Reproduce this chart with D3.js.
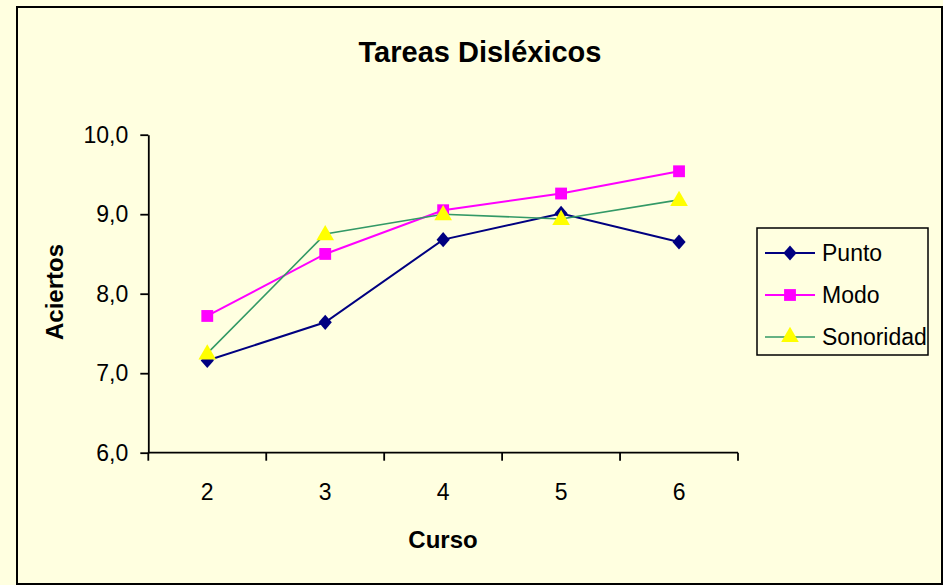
<!DOCTYPE html>
<html>
<head>
<meta charset="utf-8">
<script src="https://cdn.jsdelivr.net/npm/d3@7"></script>
<style>
  html, body { margin: 0; padding: 0; background: #FFFFE0; }
  text { font-family: Arial, "Liberation Sans", sans-serif; }
</style>
</head>
<body>
<div id="chart"></div>
<script>
// Datos
var cursos = [2, 3, 4, 5, 6];
var yTicks = [6, 7, 8, 9, 10];
var punto = [7.16, 7.64, 8.68, 9.01, 8.65];
var modo = [7.72, 8.50, 9.05, 9.26, 9.54];
var sonoridad = [7.25, 8.75, 9.00, 8.94, 9.18];

var width = 943, height = 585;
var margin = { top: 134.7, right: 205, bottom: 132.3, left: 148.3 };

// rombo tipo Excel (mas ancho que el de d3)
var excelDiamond = {
  draw: function (ctx, size) {
    var h = Math.sqrt(size) * 0.62, w = h * 0.87;
    ctx.moveTo(0, -h); ctx.lineTo(w, 0); ctx.lineTo(0, h); ctx.lineTo(-w, 0); ctx.closePath();
  }
};

var series = [
  { name: "Punto", values: punto, line: "#000080", fill: "#000080", symbol: excelDiamond, size: 150, lw: 2 },
  { name: "Modo", values: modo, line: "#FF00FF", fill: "#FF00FF", symbol: d3.symbolSquare, size: 140, lw: 2 },
  { name: "Sonoridad", values: sonoridad, line: "#339966", fill: "#FFFF00", symbol: d3.symbolTriangle, size: 135, lw: 1.6 }
];

var svg = d3.select("#chart").append("svg")
  .attr("width", width)
  .attr("height", height);

// marco exterior
svg.append("rect")
  .attr("x", 17).attr("y", 7)
  .attr("width", 925).attr("height", 577)
  .attr("fill", "#FFFFE0")
  .attr("stroke", "#000").attr("stroke-width", 2);

var x = d3.scaleBand()
  .domain(cursos)
  .range([margin.left, width - margin.right])
  .paddingInner(0).paddingOuter(0);

var y = d3.scaleLinear()
  .domain([6, 10])
  .range([height - margin.bottom, margin.top]);

var fmt = function (d) { return d3.format(".1f")(d).replace(".", ","); };

// eje Y
var yAxis = svg.append("g")
  .attr("transform", "translate(" + margin.left + ",0)")
  .call(d3.axisLeft(y).tickValues(yTicks).tickFormat(fmt).tickSize(8).tickPadding(12).tickSizeOuter(0));
yAxis.selectAll("text").attr("font-size", 23).attr("fill", "#000");
yAxis.selectAll("line, path").attr("stroke", "#000").attr("stroke-width", 1.8);

// eje X con marcas entre categorias
var xEdges = cursos.map(function (c) { return x(c); }).concat([x(cursos[cursos.length - 1]) + x.bandwidth()]);
var xg = svg.append("g").attr("transform", "translate(0," + (height - margin.bottom) + ")");
xg.append("line")
  .attr("x1", margin.left).attr("x2", width - margin.right)
  .attr("stroke", "#000").attr("stroke-width", 1.8);
xg.selectAll(".tk").data(xEdges).join("line")
  .attr("x1", function (d) { return d; }).attr("x2", function (d) { return d; })
  .attr("y1", 0).attr("y2", 8)
  .attr("stroke", "#000").attr("stroke-width", 1.8);
xg.selectAll(".lb").data(cursos).join("text")
  .attr("x", function (d) { return x(d) + x.bandwidth() / 2; })
  .attr("y", 31).attr("dy", "0.71em")
  .attr("text-anchor", "middle")
  .attr("font-size", 23)
  .text(function (d) { return d; });

var cx = function (i) { return x(cursos[i]) + x.bandwidth() / 2; };

var line = d3.line()
  .x(function (d, i) { return cx(i); })
  .y(function (d) { return y(d); });

series.forEach(function (s) {
  svg.append("path")
    .datum(s.values)
    .attr("fill", "none")
    .attr("stroke", s.line)
    .attr("stroke-width", s.lw)
    .attr("d", line);
});

series.forEach(function (s) {
  svg.selectAll(null).data(s.values).join("path")
    .attr("transform", function (d, i) {
      var dy = s.symbol === d3.symbolTriangle ? 1 : 0;
      return "translate(" + cx(i) + "," + (y(d) + dy) + ")";
    })
    .attr("d", d3.symbol().type(s.symbol).size(s.size))
    .attr("fill", s.fill);
});

// titulos
svg.append("text")
  .attr("x", 480).attr("y", 62)
  .attr("text-anchor", "middle")
  .attr("font-size", 29).attr("font-weight", "bold")
  .text("Tareas Disléxicos");

svg.append("text")
  .attr("transform", "translate(63,292) rotate(-90)")
  .attr("text-anchor", "middle")
  .attr("font-size", 24).attr("font-weight", "bold")
  .text("Aciertos");

svg.append("text")
  .attr("x", 443).attr("y", 548)
  .attr("text-anchor", "middle")
  .attr("font-size", 24).attr("font-weight", "bold")
  .text("Curso");

// leyenda
var legend = svg.append("g");
legend.append("rect")
  .attr("x", 757).attr("y", 228)
  .attr("width", 171).attr("height", 127)
  .attr("fill", "#FFFFE0")
  .attr("stroke", "#000").attr("stroke-width", 1.5);

var items = legend.selectAll(".item").data(series).join("g")
  .attr("transform", function (d, i) { return "translate(0," + (253 + i * 42) + ")"; });
items.append("line")
  .attr("x1", 765).attr("x2", 815)
  .attr("stroke", function (d) { return d.line; })
  .attr("stroke-width", function (d) { return d.lw; });
items.append("path")
  .attr("transform", "translate(790,0)")
  .attr("d", function (d) { return d3.symbol().type(d.symbol).size(d.size)(); })
  .attr("fill", function (d) { return d.fill; });
items.append("text")
  .attr("x", 822).attr("dy", "0.35em")
  .attr("font-size", 23)
  .text(function (d) { return d.name; });
</script>
</body>
</html>
